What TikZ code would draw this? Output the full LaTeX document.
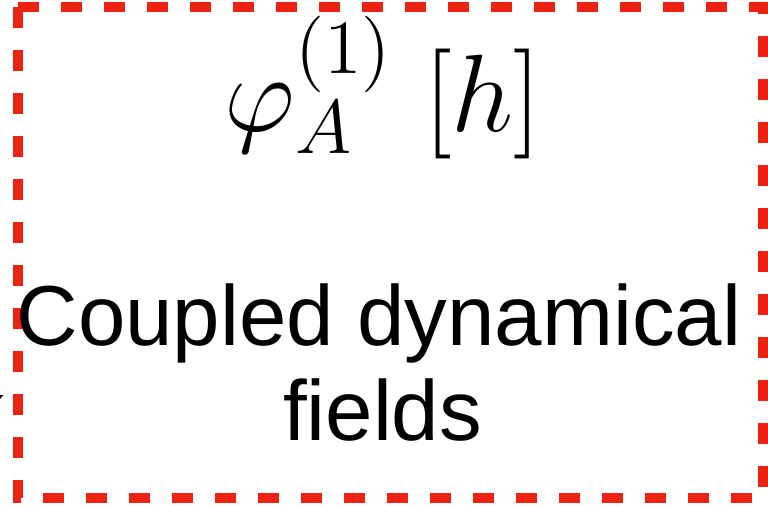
\documentclass[tikz,border=0pt]{standalone}
\usepackage{fontspec}
\newfontfamily\labelfont{Liberation Sans}
\usetikzlibrary{arrows.meta}
\definecolor{boxred}{RGB}{238,34,18}

\begin{document}
\begin{tikzpicture}
        \useasboundingbox (0,0) rectangle (15.36,10.12);

        % dashed frame
        \draw[boxred, line width=0.2cm, dash pattern=on 0.42cm off 0.44cm]
            (0.36,9.98) -- (15.26,9.98) -- (15.26,0.16) -- (0.36,0.16) -- cycle;

        % incoming arrow, mostly outside the picture
        \coordinate (in) at (-1.5,1.50);
        \coordinate (inend) at (0.07,2.22);
        \draw[line width=0.05cm, -{Stealth[length=0.35cm,width=0.3cm]}] (in) -- (inend);

        \node[anchor=base, inner sep=0, scale=3.02] (field) at (7.66,7.5)
            {\huge $\varphi^{(1)}_A\;[h]$};

        \node[anchor=base, inner sep=0] (line1) at (7.58,3.22)
            {\labelfont\fontsize{48.5}{54}\selectfont Coupled dynamical};
        \node[anchor=base, inner sep=0] (line2) at (7.65,1.32)
            {\labelfont\fontsize{48.5}{54}\selectfont fields};
\end{tikzpicture}
\end{document}
